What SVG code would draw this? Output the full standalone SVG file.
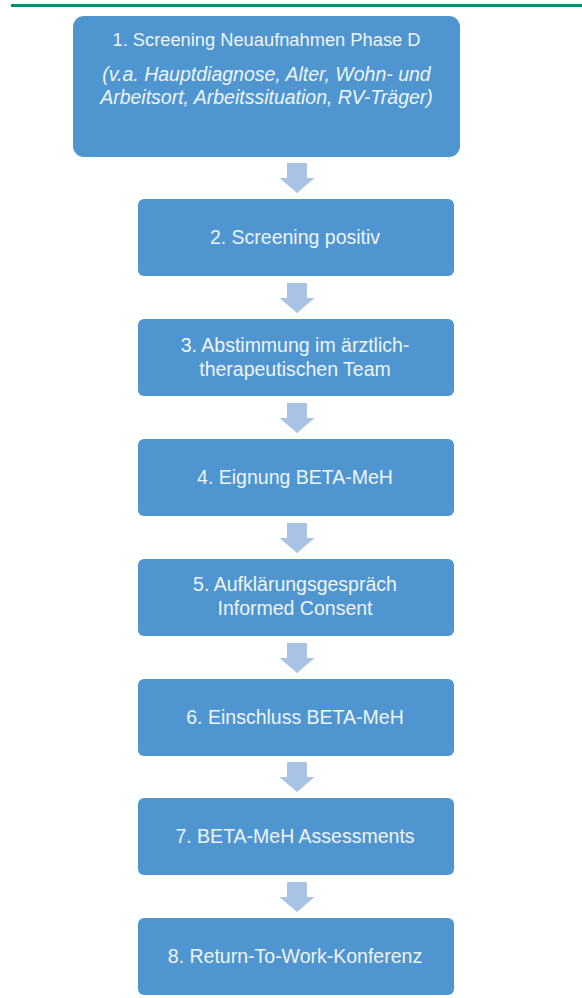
<svg xmlns="http://www.w3.org/2000/svg" width="582" height="998" viewBox="0 0 582 998">
<style>
.box{fill:#4f96d1;}
.t{font-family:"Liberation Sans",Arial,sans-serif;font-size:19.5px;fill:#eef4fb;text-anchor:middle;}
.i{font-style:italic;}
.arr{fill:#a8c3e4;}
</style>
<defs>
<path id="a" d="M-10,0 H10 V15 H17.5 L0,30 L-17.5,15 H-10 Z"/>
</defs>
<rect x="11" y="4" width="571" height="3" fill="#14896f"/>
<g id="connectors">
<use href="#a" class="arr" x="297" y="163"/>
<use href="#a" class="arr" x="297" y="283"/>
<use href="#a" class="arr" x="297" y="403"/>
<use href="#a" class="arr" x="297" y="523"/>
<use href="#a" class="arr" x="297" y="643"/>
<use href="#a" class="arr" x="297" y="762"/>
<use href="#a" class="arr" x="297" y="882"/>
</g>
<g id="n1">
<rect class="box" x="73" y="16" width="387" height="141" rx="11"/>
<text class="t" x="266.5" y="46" style="font-size:18.3px">1. Screening Neuaufnahmen Phase D</text>
<text class="t i" x="266.5" y="81">(v.a. Hauptdiagnose, Alter, Wohn- und</text>
<text class="t i" x="266.5" y="104">Arbeitsort, Arbeitssituation, RV-Träger)</text>
</g>
<g id="n2">
<rect class="box" x="138" y="199" width="316" height="77" rx="6"/>
<text class="t" x="295" y="244">2. Screening positiv</text>
</g>
<g id="n3">
<rect class="box" x="138" y="319" width="316" height="77" rx="6"/>
<text class="t" x="295" y="352">3. Abstimmung im ärztlich-</text>
<text class="t" x="295" y="376">therapeutischen Team</text>
</g>
<g id="n4">
<rect class="box" x="138" y="439" width="316" height="77" rx="6"/>
<text class="t" x="295" y="484">4. Eignung BETA-MeH</text>
</g>
<g id="n5">
<rect class="box" x="138" y="559" width="316" height="77" rx="6"/>
<text class="t" x="295" y="591">5. Aufklärungsgespräch</text>
<text class="t" x="295" y="615">Informed Consent</text>
</g>
<g id="n6">
<rect class="box" x="138" y="679" width="316" height="77" rx="6"/>
<text class="t" x="295" y="724">6. Einschluss BETA-MeH</text>
</g>
<g id="n7">
<rect class="box" x="138" y="798" width="316" height="77" rx="6"/>
<text class="t" x="295" y="843">7. BETA-MeH Assessments</text>
</g>
<g id="n8">
<rect class="box" x="138" y="918" width="316" height="77" rx="6"/>
<text class="t" x="295" y="963">8. Return-To-Work-Konferenz</text>
</g>
</svg>
